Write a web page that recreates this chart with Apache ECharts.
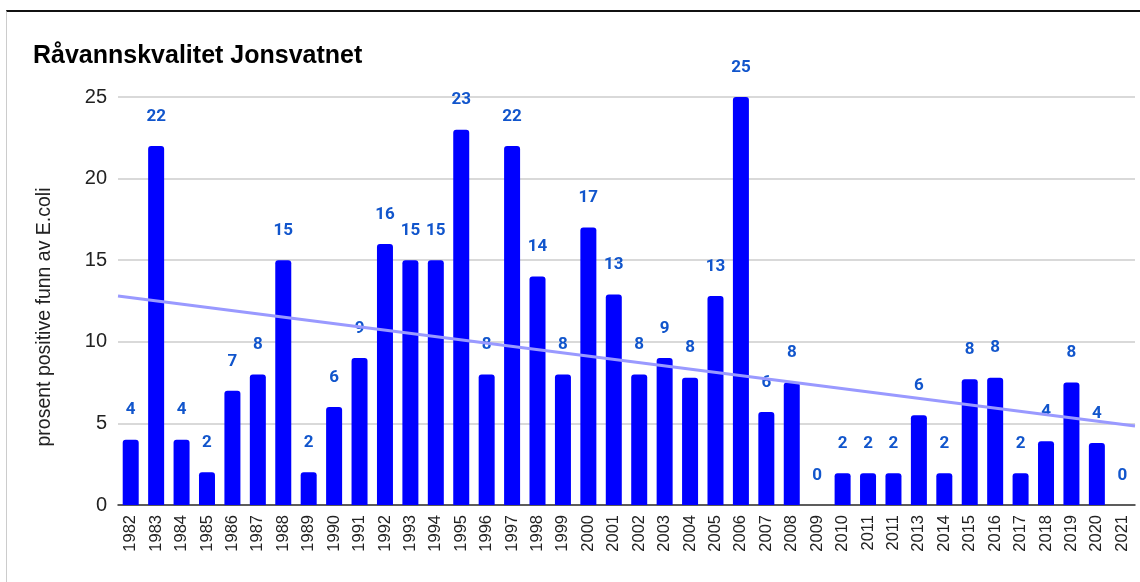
<!DOCTYPE html>
<html>
<head>
<meta charset="utf-8">
<script src="https://cdn.jsdelivr.net/npm/echarts@6/dist/echarts.min.js"></script>
<style>
  html, body { margin: 0; padding: 0; background: #fff; }
  #frame { position: absolute; left: 6px; top: 10px; width: 1134px; height: 572px;
           border-top: 2px solid #111; border-left: 1px solid #ccc; box-sizing: border-box; }
  #chart { position: absolute; left: 0; top: 0; width: 1140px; height: 582px; }
</style>
</head>
<body>
<div id="frame"></div>
<div id="chart"></div>
<script>
// years as written on the axis (2011 appears twice in the original)
const years = ['1982','1983','1984','1985','1986','1987','1988','1989','1990','1991',
  '1992','1993','1994','1995','1996','1997','1998','1999','2000','2001',
  '2002','2003','2004','2005','2006','2007','2008','2009','2010','2011',
  '2011','2013','2014','2015','2016','2017','2018','2019','2020','2021'];

// percent positive E.coli findings
const values = [4, 22, 4, 2, 7, 8, 15, 2, 6, 9,
  16, 15, 15, 23, 8, 22, 14, 8, 17, 12.9,
  8, 9, 7.8, 12.8, 25, 5.7, 7.5, 0, 1.95, 1.95,
  1.95, 5.5, 1.95, 7.7, 7.8, 1.95, 3.9, 7.5, 3.8, 0];

// trend line endpoints (edge of plot, left and right)
const trendX = [-0.5, 39.5];
const trendY = [12.81, 4.84];

const yTicks = { min: 0, max: 25, interval: 5 };

const chart = echarts.init(document.getElementById('chart'), null, { renderer: 'canvas' });

chart.setOption({
  animation: false,
  title: {
    text: 'Råvannskvalitet Jonsvatnet',
    left: 28, top: 39,
    textStyle: { fontFamily: 'Arial, Liberation Sans', fontSize: 25, fontWeight: 'bold', color: '#000' }
  },
  grid: { left: 118, right: 5, top: 97, bottom: 77 },
  xAxis: [{
    type: 'category',
    data: years,
    axisTick: { show: false },
    axisLine: { lineStyle: { color: '#333', width: 1.5 } },
    axisLabel: { rotate: 90, interval: 0, margin: 10, color: '#222',
      fontFamily: 'Arial, Liberation Sans', fontSize: 16.5 }
  }, {
    type: 'value',
    min: -0.5, max: 39.5,
    show: false
  }],
  yAxis: {
    type: 'value',
    min: yTicks.min, max: yTicks.max, interval: yTicks.interval,
    name: 'prosent positive funn av E.coli',
    nameLocation: 'middle',
    nameGap: 63,
    nameTextStyle: { fontFamily: 'Arial, Liberation Sans', fontSize: 19.5, color: '#222', padding: [0, 32, 0, 0] },
    axisLine: { show: false },
    axisTick: { show: false },
    axisLabel: { margin: 11, color: '#222', fontFamily: 'Arial, Liberation Sans', fontSize: 20 },
    splitLine: { lineStyle: { color: '#ccc', width: 1.5 } }
  },
  series: [{
    type: 'bar',
    data: values,
    barWidth: 16,
    itemStyle: { color: '#0000ff', borderRadius: [3, 3, 0, 0] },
    label: {
      show: true,
      position: 'top',
      distance: 21,
      color: '#1155cc',
      fontFamily: 'Roboto, Arial',
      fontWeight: 'bold',
      fontSize: 17,
      formatter: p => Math.round(p.value)
    },
    z: 2
  }, {
    type: 'line',
    xAxisIndex: 1,
    data: trendX.map((x, i) => [x, trendY[i]]),
    symbol: 'none',
    lineStyle: { color: '#9999ff', width: 3 },
    z: 3
  }]
});
</script>
</body>
</html>
